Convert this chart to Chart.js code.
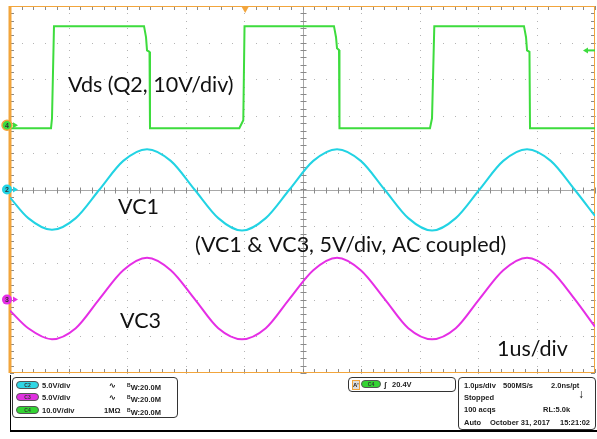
<!DOCTYPE html>
<html>
<head>
<meta charset="utf-8">
<script src="https://cdn.jsdelivr.net/npm/chart.js@4.4.1/dist/chart.umd.min.js"></script>
<style>
body { margin:0; background:#fff; width:597px; height:439px; overflow:hidden; position:relative;
       font-family:"Liberation Sans", Arial, sans-serif; }
#wrap { position:absolute; left:0; top:0; width:597px; height:376px; }
.frame { position:absolute; left:10px; top:375px; width:586px; height:55px;
         border-left:1px solid #000; border-bottom:2px solid #000; }
.box { position:absolute; border:1px solid #333; border-radius:4px; box-sizing:border-box; }
.t { position:absolute; font-size:7.5px; font-weight:bold; color:#222; line-height:9px; white-space:nowrap; }
.pill { position:absolute; width:23px; height:8px; border-radius:4px; font-size:5px; font-weight:bold;
        color:#333; text-align:center; line-height:7px; border:1px solid #555; box-sizing:border-box; }
sup { font-size:5px; vertical-align:3px; }
</style>
</head>
<body>
<div id="wrap"><canvas id="scope" width="597" height="376"></canvas></div>

<div class="frame"></div>

<!-- channel readout -->
<div class="box" style="left:12px;top:377px;width:166px;height:41px;"></div>
<div class="pill" style="left:16px;top:381px;background:#2fd6e4;">C2</div>
<div class="t" style="left:42px;top:381px;">5.0V/div</div>
<div class="t" style="left:109px;top:381px;">∿</div>
<div class="t" style="left:127px;top:381px;"><sup>B</sup>W:20.0M</div>
<div class="pill" style="left:16px;top:393px;background:#e030e0;">C3</div>
<div class="t" style="left:42px;top:393px;">5.0V/div</div>
<div class="t" style="left:109px;top:393px;">∿</div>
<div class="t" style="left:127px;top:393px;"><sup>B</sup>W:20.0M</div>
<div class="pill" style="left:16px;top:406px;background:#33d433;">C4</div>
<div class="t" style="left:42px;top:406px;">10.0V/div</div>
<div class="t" style="left:104px;top:406px;">1MΩ</div>
<div class="t" style="left:127px;top:406px;"><sup>B</sup>W:20.0M</div>

<!-- trigger readout -->
<div class="box" style="left:348px;top:377px;width:108px;height:15px;"></div>
<div class="t" style="left:352px;top:380px;width:6px;height:8px;border:1px solid #f2a53c;background:#ddd;font-size:6px;line-height:8px;">A'</div>
<div class="pill" style="left:361px;top:380px;width:20px;background:#33d433;">C4</div>
<div class="t" style="left:384px;top:380px;">ʃ</div>
<div class="t" style="left:392px;top:380px;">20.4V</div>

<!-- acquisition readout -->
<div class="box" style="left:458px;top:377px;width:138px;height:53px;"></div>
<div class="t" style="left:464px;top:381px;">1.0µs/div</div>
<div class="t" style="left:503px;top:381px;">500MS/s</div>
<div class="t" style="left:551px;top:381px;">2.0ns/pt</div>
<div class="t" style="left:464px;top:393px;">Stopped</div>
<div class="t" style="left:578px;top:390px;font-size:12px;color:#000;">↓</div>
<div class="t" style="left:464px;top:405px;">100 acqs</div>
<div class="t" style="left:543px;top:405px;">RL:5.0k</div>
<div class="t" style="left:464px;top:418px;">Auto</div>
<div class="t" style="left:490px;top:418px;">October 31, 2017</div>
<div class="t" style="left:560px;top:418px;">15:21:02</div>

<script>
// ========== DATA ==========
// time axis in µs (1 µs/div, 10 div), trigger at -0.98 µs
const timeDivs = [-5, -4, -3, -2, -1, 0, 1, 2, 3, 4, 5];
const triggerTime = -0.98;
const triggerLevel = 20.4; // V on C4

// channel setup: C2 = VC1, C3 = VC3, C4 = Vds
const channelNames = ['C2', 'C3', 'C4'];
const channelVoltsPerDiv = [5, 5, 10];
const channelOffsetDiv = [0, -3, 1.75];
const channelColors = ['#22d3e3', '#e52ee5', '#3ddc3d'];

// Vds (Q2) switching waveform, volts
const vdsTimes = [-5.0, -4.299, -4.282, -4.248, -2.709, -2.675, -2.658, -2.615, -2.607,
                  -1.080, -1.012, -0.991, 0.538, 0.573, 0.590, 0.624, 0.632,
                  2.179, 2.214, 2.253, 3.786, 3.821, 3.838, 3.880, 3.889, 5.0];
const vdsVolts = [-0.8, -0.8, 1.9, 27, 27, 24, 20.4, 20, -0.8,
                  -0.8, 1.4, 27, 27, 24, 21, 20.5, -0.8,
                  -0.8, 1.9, 27, 27, 24, 20.4, 20, -0.8, -0.8];

// resonant capacitor voltages, AC coupled, volts
const sineTimes = [-5.0, -4.688, -4.282, -3.876, -3.470, -3.064, -2.658, -2.252, -1.846,
                   -1.440, -1.034, -0.628, -0.222, 0.184, 0.590, 0.996, 1.402,
                   1.808, 2.214, 2.620, 3.026, 3.432, 3.838, 4.244, 4.650, 5.0];
const vc1Volts = [-1.1, -3.9, -5.5, -3.9, 0, 3.9, 5.5, 3.9, 0,
                  -3.9, -5.6, -3.9, 0, 3.9, 5.5, 3.9, 0,
                  -3.9, -5.6, -3.9, 0, 3.9, 5.5, 3.9, 0, -3.6];
const vc3Volts = [-1.5, -3.9, -5.4, -3.9, 0.1, 4.0, 5.7, 4.0, 0.1,
                  -3.9, -5.4, -3.9, 0.1, 4.0, 5.7, 4.0, 0.1,
                  -3.9, -5.4, -3.9, 0.1, 4.0, 5.7, 4.0, 0.1, -3.7];

// on-screen notes
const notes = [
    { text: 'Vds (Q2, 10V/div)', x: 68, y: 92 },
    { text: 'VC1', x: 118, y: 214 },
    { text: '(VC1 & VC3, 5V/div, AC coupled)', x: 195, y: 252 },
    { text: 'VC3', x: 120, y: 328 },
    { text: '1us/div', x: 497, y: 356 }
];

const ORANGE = '#f2a53c';

function pts(xs, ys) { return xs.map((x, i) => ({ x: x, y: ys[i] })); }

function chScale(i) {
    return {
        type: 'linear', axis: 'y', display: false,
        min: (-5 - channelOffsetDiv[i]) * channelVoltsPerDiv[i],
        max: (5 - channelOffsetDiv[i]) * channelVoltsPerDiv[i]
    };
}

// ========== GRATICULE + MARKERS ==========
const scopePlugin = {
    id: 'scope',
    beforeDatasetsDraw(chart) {
        const ctx = chart.ctx, a = chart.chartArea;
        const xs = chart.scales.x, ys = chart.scales.div;
        ctx.save();
        ctx.fillStyle = '#fff';
        ctx.fillRect(0, 0, chart.width, chart.height);

        // dotted grid
        ctx.fillStyle = '#b4b4b4';
        timeDivs.forEach(t => {
            if (t === 0 || Math.abs(t) === 5) return;
            const px = Math.round(xs.getPixelForValue(t));
            for (let v = -5; v <= 5.001; v += 0.2) {
                ctx.fillRect(px, Math.round(ys.getPixelForValue(v)), 1, 1);
            }
        });
        for (let d = -4; d <= 4; d++) {
            if (d === 0) continue;
            const py = Math.round(ys.getPixelForValue(d));
            for (let t = -5; t <= 5.001; t += 0.2) {
                ctx.fillRect(Math.round(xs.getPixelForValue(t)), py, 1, 1);
            }
        }

        // centre cross with minor ticks
        const cx = Math.round(xs.getPixelForValue(0)) + 0.5;
        const cy = Math.round(ys.getPixelForValue(0)) + 0.5;
        ctx.strokeStyle = '#a8a8a8';
        ctx.lineWidth = 1;
        ctx.beginPath();
        ctx.moveTo(cx, a.top); ctx.lineTo(cx, a.bottom);
        ctx.moveTo(a.left, cy); ctx.lineTo(a.right, cy);
        ctx.stroke();
        ctx.strokeStyle = '#8a8a8a';
        ctx.beginPath();
        for (let v = -5; v <= 5.001; v += 0.2) {
            const py = Math.round(ys.getPixelForValue(v)) + 0.5;
            ctx.moveTo(cx - 3, py); ctx.lineTo(cx + 3, py);
            ctx.moveTo(a.left, py); ctx.lineTo(a.left + 4, py);
            ctx.moveTo(a.right, py); ctx.lineTo(a.right - 4, py);
        }
        for (let t = -5; t <= 5.001; t += 0.2) {
            const px = Math.round(xs.getPixelForValue(t)) + 0.5;
            ctx.moveTo(px, cy - 3); ctx.lineTo(px, cy + 3);
            ctx.moveTo(px, a.top); ctx.lineTo(px, a.top + 4);
            ctx.moveTo(px, a.bottom); ctx.lineTo(px, a.bottom - 4);
        }
        ctx.stroke();

        // orange frame
        ctx.strokeStyle = ORANGE;
        ctx.lineWidth = 1;
        ctx.beginPath();
        ctx.moveTo(a.left, a.top + 0.5); ctx.lineTo(a.right, a.top + 0.5);
        ctx.moveTo(a.right - 0.5, a.top); ctx.lineTo(a.right - 0.5, a.bottom);
        ctx.moveTo(a.left, a.bottom - 0.5); ctx.lineTo(a.right, a.bottom - 0.5);
        ctx.stroke();
        ctx.lineWidth = 3;
        ctx.beginPath();
        ctx.moveTo(a.left, a.top); ctx.lineTo(a.left, a.bottom);
        ctx.stroke();
        ctx.restore();
    },
    afterDraw(chart) {
        const ctx = chart.ctx, a = chart.chartArea;
        ctx.save();

        // trigger position marker
        const tx = chart.scales.x.getPixelForValue(triggerTime);
        ctx.fillStyle = ORANGE;
        ctx.beginPath();
        ctx.moveTo(tx - 4, a.top); ctx.lineTo(tx + 4, a.top); ctx.lineTo(tx, a.top + 7);
        ctx.closePath(); ctx.fill();

        // trigger level arrow (C4)
        const ty = chart.scales.c4.getPixelForValue(triggerLevel);
        ctx.strokeStyle = channelColors[2]; ctx.fillStyle = channelColors[2];
        ctx.lineWidth = 2;
        ctx.beginPath(); ctx.moveTo(a.right - 9, ty); ctx.lineTo(a.right, ty); ctx.stroke();
        ctx.beginPath();
        ctx.moveTo(a.right - 12, ty); ctx.lineTo(a.right - 7, ty - 3); ctx.lineTo(a.right - 7, ty + 3);
        ctx.closePath(); ctx.fill();

        // ground markers
        ['c2', 'c3', 'c4'].forEach((id, i) => {
            const gy = chart.scales[id].getPixelForValue(0);
            ctx.fillStyle = channelColors[i];
            ctx.beginPath();
            ctx.moveTo(13, gy - 3); ctx.lineTo(18, gy); ctx.lineTo(13, gy + 3);
            ctx.closePath(); ctx.fill();
            ctx.beginPath(); ctx.arc(7, gy, 5, 0, Math.PI * 2); ctx.fill();
            if (i === 2) { ctx.strokeStyle = ORANGE; ctx.lineWidth = 1.5; ctx.stroke(); }
            ctx.fillStyle = '#333';
            ctx.font = 'bold 7px "Liberation Sans", Arial';
            ctx.textAlign = 'center'; ctx.textBaseline = 'middle';
            ctx.fillText(channelNames[i].slice(1), 7, gy + 0.5);
        });

        // notes
        ctx.fillStyle = '#111';
        ctx.font = '21.5px Lato, "Open Sans", sans-serif';
        ctx.textAlign = 'left'; ctx.textBaseline = 'alphabetic';
        notes.forEach(n => ctx.fillText(n.text, n.x, n.y));
        ctx.restore();
    }
};

// ========== CHART ==========
const ctx = document.getElementById('scope').getContext('2d');
new Chart(ctx, {
    type: 'line',
    data: {
        datasets: [
            { label: 'VC1', data: pts(sineTimes, vc1Volts), yAxisID: 'c2',
              borderColor: channelColors[0], borderWidth: 2, cubicInterpolationMode: 'monotone' },
            { label: 'VC3', data: pts(sineTimes, vc3Volts), yAxisID: 'c3',
              borderColor: channelColors[1], borderWidth: 2, cubicInterpolationMode: 'monotone' },
            { label: 'Vds', data: pts(vdsTimes, vdsVolts), yAxisID: 'c4',
              borderColor: channelColors[2], borderWidth: 2, tension: 0 }
        ]
    },
    options: {
        responsive: false,
        animation: false,
        layout: { padding: { left: 10, right: 2, top: 6, bottom: 3 } },
        elements: { point: { radius: 0 } },
        plugins: { legend: { display: false }, tooltip: { enabled: false } },
        scales: {
            x: { type: 'linear', axis: 'x', display: false, min: -5, max: 5 },
            div: { type: 'linear', axis: 'y', display: false, min: -5, max: 5 },
            c2: chScale(0),
            c3: chScale(1),
            c4: chScale(2)
        }
    },
    plugins: [scopePlugin]
});
</script>
</body>
</html>
